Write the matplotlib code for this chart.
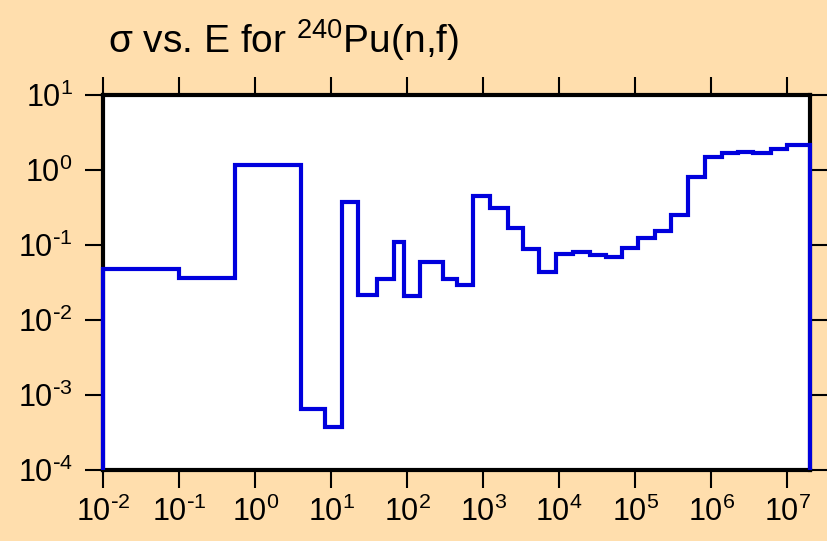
import numpy as np
import matplotlib.pyplot as plt
from matplotlib.ticker import LogLocator, NullLocator, FuncFormatter

# Limites des groupes d'énergie (eV) et section efficace (barn)
bin_edges = [1e-2, 0.1, 0.54, 4.0, 8.3, 13.7, 22.2, 39.5, 67.4, 91.4, 148,
             300, 459, 745, 1236, 2090, 3390, 5460, 9220, 15400, 25300,
             41100, 68100, 110000, 183000, 300000, 498000, 825000, 1.37e6,
             2.27e6, 3.6e6, 6.1e6, 1.01e7, 2e7]
sigma = [0.048, 0.036, 1.15, 6.5e-4, 3.7e-4, 0.37, 0.0215, 0.035, 0.111,
         0.021, 0.059, 0.035, 0.029, 0.45, 0.31, 0.168, 0.088, 0.044, 0.076,
         0.0795, 0.0747, 0.070, 0.091, 0.124, 0.152, 0.249, 0.80, 1.49,
         1.71, 1.74, 1.71, 1.93, 2.14]

plt.rcParams['font.family'] = ['Liberation Sans', 'DejaVu Sans']


def puissance(v, pos):
    # étiquette 10^n avec un tiret court pour les exposants négatifs
    n = int(round(np.log10(v)))
    if n < 0:
        return r'$\mathregular{10^{\text{-}%d}}$' % (-n)
    return r'$\mathregular{10^{%d}}$' % n


bg = '#FFDEAD'
fig = plt.figure(figsize=(8.27, 5.41), dpi=100, facecolor=bg)
ax = fig.add_axes([0.1249, 0.1312, 0.9794 - 0.1249, 0.8244 - 0.1312])
ax.set_facecolor('white')

ax.stairs(sigma, bin_edges, baseline=1e-4, color='#0000DD', linewidth=3,
          clip_on=False, zorder=5)

ax.set_xscale('log')
ax.set_yscale('log')
ax.set_xlim(1e-2, 2e7)
ax.set_ylim(1e-4, 1e1)

ax.xaxis.set_major_locator(LogLocator(base=10, numticks=20))
ax.yaxis.set_major_locator(LogLocator(base=10, numticks=20))
ax.xaxis.set_minor_locator(NullLocator())
ax.yaxis.set_minor_locator(NullLocator())
ax.xaxis.set_major_formatter(FuncFormatter(puissance))
ax.yaxis.set_major_formatter(FuncFormatter(puissance))

ax.tick_params(which='major', direction='out', length=13, width=1.5,
               top=True, right=True, labelsize=22, color='black')
ax.tick_params(axis='x', pad=6)
ax.tick_params(axis='y', pad=9)

for s in ax.spines.values():
    s.set_linewidth(3)
    s.set_color('black')

fig.text(108 / 827, 1 - 53 / 541, 'σ vs. E for $\\mathregular{^{240}}$Pu(n,f)',
         fontsize=28, ha='left', va='baseline')

fig.savefig('out.png', dpi=100, facecolor=bg)
